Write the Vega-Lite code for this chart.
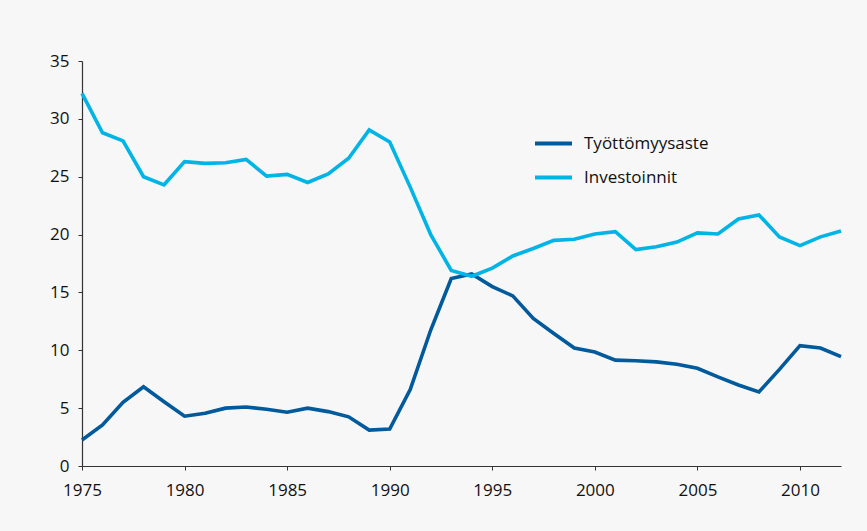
{
  "$schema": "https://vega.github.io/schema/vega-lite/v6.json",
  "width": 759,
  "height": 405,
  "autosize": {"type": "none"},
  "padding": {"left": 82, "top": 61, "right": 26, "bottom": 65},
  "background": "#f7f7f7",
  "config": {
    "view": {"stroke": null},
    "font": "Open Sans",
    "axis": {"labelFont": "Open Sans", "labelFontSize": 17, "labelColor": "#111111", "domainColor": "#333333", "tickColor": "#333333", "grid": false, "title": null, "tickSize": 4, "domainWidth": 1.2}
  },
  "data": {"values": [
    {"year": 1975, "s": "Työttömyysaste", "v": 2.25}, {"year": 1976, "s": "Työttömyysaste", "v": 3.55},
    {"year": 1977, "s": "Työttömyysaste", "v": 5.5}, {"year": 1978, "s": "Työttömyysaste", "v": 6.85},
    {"year": 1979, "s": "Työttömyysaste", "v": 5.55}, {"year": 1980, "s": "Työttömyysaste", "v": 4.3},
    {"year": 1981, "s": "Työttömyysaste", "v": 4.55}, {"year": 1982, "s": "Työttömyysaste", "v": 5.0},
    {"year": 1983, "s": "Työttömyysaste", "v": 5.1}, {"year": 1984, "s": "Työttömyysaste", "v": 4.9},
    {"year": 1985, "s": "Työttömyysaste", "v": 4.65}, {"year": 1986, "s": "Työttömyysaste", "v": 5.0},
    {"year": 1987, "s": "Työttömyysaste", "v": 4.7}, {"year": 1988, "s": "Työttömyysaste", "v": 4.25},
    {"year": 1989, "s": "Työttömyysaste", "v": 3.1}, {"year": 1990, "s": "Työttömyysaste", "v": 3.2},
    {"year": 1991, "s": "Työttömyysaste", "v": 6.6}, {"year": 1992, "s": "Työttömyysaste", "v": 11.75},
    {"year": 1993, "s": "Työttömyysaste", "v": 16.2}, {"year": 1994, "s": "Työttömyysaste", "v": 16.6},
    {"year": 1995, "s": "Työttömyysaste", "v": 15.5}, {"year": 1996, "s": "Työttömyysaste", "v": 14.7},
    {"year": 1997, "s": "Työttömyysaste", "v": 12.75}, {"year": 1998, "s": "Työttömyysaste", "v": 11.45},
    {"year": 1999, "s": "Työttömyysaste", "v": 10.2}, {"year": 2000, "s": "Työttömyysaste", "v": 9.85},
    {"year": 2001, "s": "Työttömyysaste", "v": 9.15}, {"year": 2002, "s": "Työttömyysaste", "v": 9.1},
    {"year": 2003, "s": "Työttömyysaste", "v": 9.0}, {"year": 2004, "s": "Työttömyysaste", "v": 8.8},
    {"year": 2005, "s": "Työttömyysaste", "v": 8.45}, {"year": 2006, "s": "Työttömyysaste", "v": 7.7},
    {"year": 2007, "s": "Työttömyysaste", "v": 7.0}, {"year": 2008, "s": "Työttömyysaste", "v": 6.4},
    {"year": 2009, "s": "Työttömyysaste", "v": 8.35}, {"year": 2010, "s": "Työttömyysaste", "v": 10.4},
    {"year": 2011, "s": "Työttömyysaste", "v": 10.2}, {"year": 2012, "s": "Työttömyysaste", "v": 9.45},
    {"year": 1975, "s": "Investoinnit", "v": 32.2}, {"year": 1976, "s": "Investoinnit", "v": 28.8},
    {"year": 1977, "s": "Investoinnit", "v": 28.1}, {"year": 1978, "s": "Investoinnit", "v": 25.0},
    {"year": 1979, "s": "Investoinnit", "v": 24.3}, {"year": 1980, "s": "Investoinnit", "v": 26.3},
    {"year": 1981, "s": "Investoinnit", "v": 26.15}, {"year": 1982, "s": "Investoinnit", "v": 26.2},
    {"year": 1983, "s": "Investoinnit", "v": 26.5}, {"year": 1984, "s": "Investoinnit", "v": 25.05},
    {"year": 1985, "s": "Investoinnit", "v": 25.2}, {"year": 1986, "s": "Investoinnit", "v": 24.5},
    {"year": 1987, "s": "Investoinnit", "v": 25.25}, {"year": 1988, "s": "Investoinnit", "v": 26.6},
    {"year": 1989, "s": "Investoinnit", "v": 29.05}, {"year": 1990, "s": "Investoinnit", "v": 28.0},
    {"year": 1991, "s": "Investoinnit", "v": 24.1}, {"year": 1992, "s": "Investoinnit", "v": 20.0},
    {"year": 1993, "s": "Investoinnit", "v": 16.9}, {"year": 1994, "s": "Investoinnit", "v": 16.4},
    {"year": 1995, "s": "Investoinnit", "v": 17.1}, {"year": 1996, "s": "Investoinnit", "v": 18.15},
    {"year": 1997, "s": "Investoinnit", "v": 18.8}, {"year": 1998, "s": "Investoinnit", "v": 19.5},
    {"year": 1999, "s": "Investoinnit", "v": 19.6}, {"year": 2000, "s": "Investoinnit", "v": 20.05},
    {"year": 2001, "s": "Investoinnit", "v": 20.25}, {"year": 2002, "s": "Investoinnit", "v": 18.7},
    {"year": 2003, "s": "Investoinnit", "v": 18.95}, {"year": 2004, "s": "Investoinnit", "v": 19.35},
    {"year": 2005, "s": "Investoinnit", "v": 20.15}, {"year": 2006, "s": "Investoinnit", "v": 20.05},
    {"year": 2007, "s": "Investoinnit", "v": 21.35}, {"year": 2008, "s": "Investoinnit", "v": 21.7},
    {"year": 2009, "s": "Investoinnit", "v": 19.8}, {"year": 2010, "s": "Investoinnit", "v": 19.05},
    {"year": 2011, "s": "Investoinnit", "v": 19.8}, {"year": 2012, "s": "Investoinnit", "v": 20.3}
  ]},
  "mark": {"type": "line", "strokeWidth": 3.6, "strokeJoin": "miter"},
  "encoding": {
    "x": {"field": "year", "type": "quantitative", "scale": {"domain": [1975, 2012], "nice": false, "zero": false},
      "axis": {"values": [1975, 1980, 1985, 1990, 1995, 2000, 2005, 2010], "format": "d", "labelPadding": 12, "labelFlush": false}},
    "y": {"field": "v", "type": "quantitative", "scale": {"domain": [0, 35], "nice": false},
      "axis": {"values": [0, 5, 10, 15, 20, 25, 30, 35], "labelPadding": 9, "labelBaseline": "middle"}},
    "color": {"field": "s", "type": "nominal", "sort": ["Työttömyysaste", "Investoinnit"],
      "scale": {"domain": ["Työttömyysaste", "Investoinnit"], "range": ["#005a9c", "#00b4e6"]},
      "legend": {"title": null, "orient": "none", "legendX": 451, "legendY": 62, "symbolType": "stroke", "symbolSize": 1369, "symbolStrokeWidth": 4, "labelFont": "Open Sans", "labelFontSize": 17, "labelColor": "#111111", "labelOffset": 10, "rowPadding": 5}
    }
  }
}
